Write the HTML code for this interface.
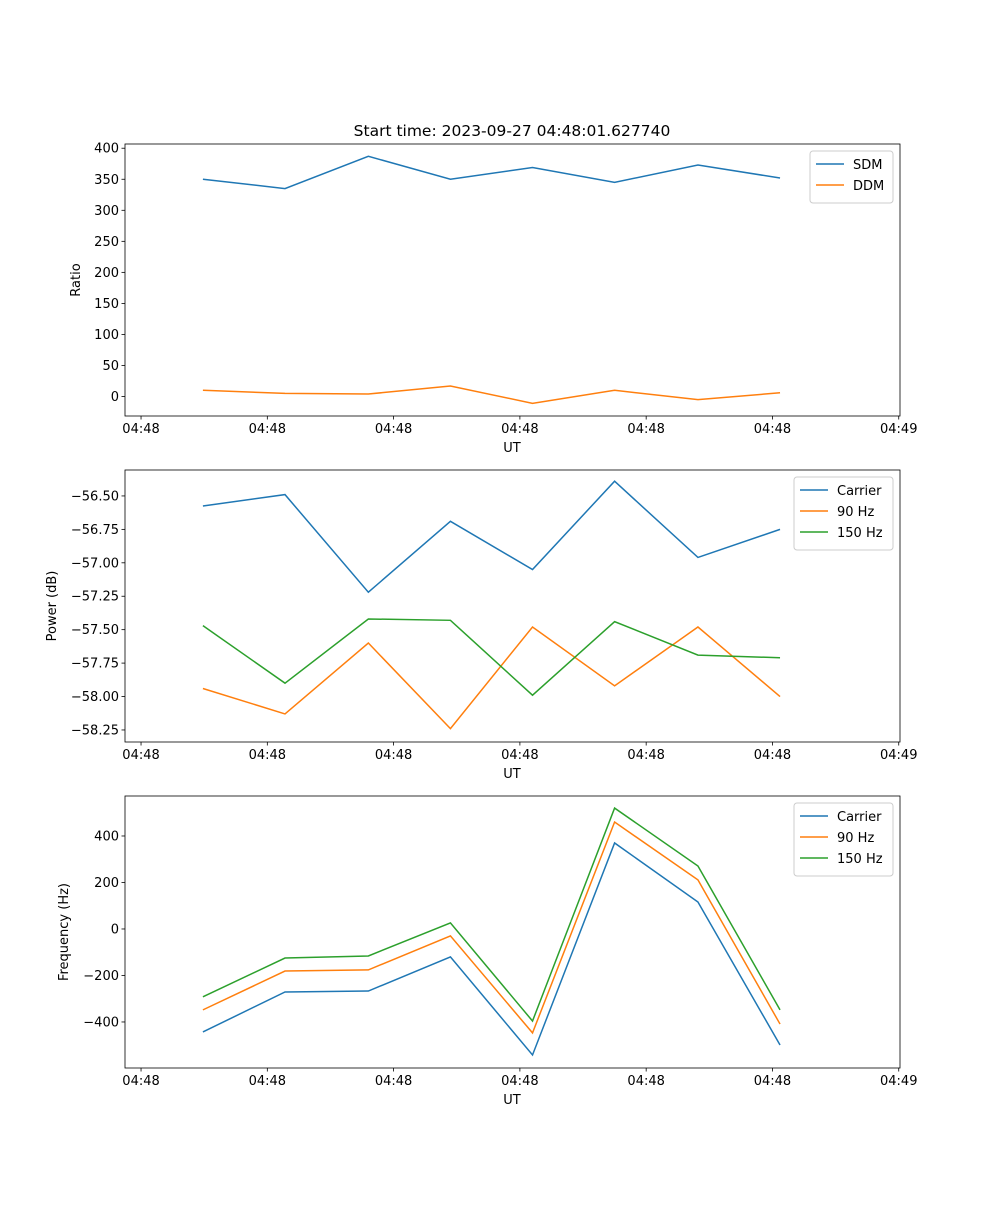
<!DOCTYPE html>
<html><head><meta charset="utf-8"><style>
body{margin:0;background:#fff}
svg text{font-family:"DejaVu Sans","Liberation Sans",sans-serif;font-size:13px;fill:#000}
</style></head><body>
<svg id="fig" width="1000" height="1200" xmlns="http://www.w3.org/2000/svg">
<text x="512" y="136" text-anchor="middle" style="font-size:15.5px">Start time: 2023-09-27 04:48:01.627740</text>
</svg>
<script>
const times=[4.9,11.4,18.0,24.5,31.0,37.5,44.1,50.6];
const xTicks=[0,10,20,30,40,50,60];
const xTickLabels=['04:48','04:48','04:48','04:48','04:48','04:48','04:49'];
const sdm=[350,335,387,350,369,345,373,352];
const ddm=[10,5,4,17,-11,10,-5,6];
const powCarrier=[-56.575,-56.49,-57.22,-56.69,-57.05,-56.39,-56.96,-56.75];
const pow90=[-57.94,-58.13,-57.60,-58.24,-57.48,-57.92,-57.48,-58.00];
const pow150=[-57.47,-57.90,-57.42,-57.43,-57.99,-57.44,-57.69,-57.71];
const freqCarrier=[-443,-271,-267,-120,-542,370,116,-499];
const freq90=[-348,-181,-176,-30,-447,460,211,-409];
const freq150=[-292,-125,-116,26,-396,520,271,-348];
const ticks1=[0,50,100,150,200,250,300,350,400];
const ticks2=[-58.25,-58.0,-57.75,-57.5,-57.25,-57.0,-56.75,-56.5];
const ticks3=[-400,-200,0,200,400];
const C=['#1f77b4','#ff7f0e','#2ca02c'];
const svg=document.getElementById('fig');const NS='http://www.w3.org/2000/svg';
function el(t,a,p){const e=document.createElementNS(NS,t);for(const k in a)e.setAttribute(k,a[k]);(p||svg).appendChild(e);return e;}
const L=125,R=900,xd=[-1.27,60.1];
const X=v=>L+(v-xd[0])/(xd[1]-xd[0])*(R-L);
function panel(name,top,bot,yd,yticks,fmt,ylabel,series,legW){
 const g=el('g',{});
 
 
 const Y=v=>bot-(v-yd[0])/(yd[1]-yd[0])*(bot-top);
 series.forEach((s,i)=>{
  const p=el('polyline',{points:s.d.map((v,j)=>X(times[j])+','+Y(v)).join(' '),fill:'none',stroke:C[i],'stroke-width':1.5},g);
  
  
 });
 el('rect',{x:L,y:top,width:R-L,height:bot-top,fill:'none',stroke:'#000','stroke-width':0.8},g);
 xTicks.forEach((t,i)=>{const x=X(t);el('line',{x1:x,x2:x,y1:bot,y2:bot+3.5,stroke:'#000','stroke-width':0.8},g);
  const tx=el('text',{x:x,y:bot+17,'text-anchor':'middle'},g);tx.textContent=xTickLabels[i];
  
  });
 yticks.forEach(t=>{const y=Y(t);el('line',{x1:L,x2:L-3.5,y1:y,y2:y,stroke:'#000','stroke-width':0.8},g);
  const tx=el('text',{x:L-6,y:y+4.5,'text-anchor':'end'},g);tx.textContent=fmt(t);
  
  });
 const xl=el('text',{x:512,y:bot+36,'text-anchor':'middle'},g);xl.textContent='UT';
 
 
 const yx=name==='ratio'?80:(name==='power'?56:68),yc=(top+bot)/2;
 const yl=el('text',{x:yx,y:yc,'text-anchor':'middle',transform:'rotate(-90 '+yx+' '+yc+')'},g);yl.textContent=ylabel;
 
 
 const lx=R-7-legW,ly=top+7;
 const lg=el('g',{},g);
 
 
 el('rect',{x:lx,y:ly,width:legW,height:10+series.length*21,rx:3,fill:'#fff','fill-opacity':0.8,stroke:'#ccc'},lg);
 series.forEach((s,i)=>{const yy=ly+13+i*21;
  el('line',{x1:lx+6,x2:lx+34,y1:yy,y2:yy,stroke:C[i],'stroke-width':1.5},lg);
  const t=el('text',{x:lx+43,y:yy+5},lg);t.textContent=s.n;
  
  });
}
panel('ratio',144,416,[-31.4,406.8],ticks1,v=>String(v),'Ratio',[{n:'SDM',d:sdm},{n:'DDM',d:ddm}],83);
panel('power',470,742,[-58.34,-56.306],ticks2,v=>v.toFixed(2).replace('-','\u2212'),'Power (dB)',[{n:'Carrier',d:powCarrier},{n:'90 Hz',d:pow90},{n:'150 Hz',d:pow150}],99);
panel('frequency',796,1068,[-598,572],ticks3,v=>String(v).replace('-','\u2212'),'Frequency (Hz)',[{n:'Carrier',d:freqCarrier},{n:'90 Hz',d:freq90},{n:'150 Hz',d:freq150}],99);
</script>
</body></html>
